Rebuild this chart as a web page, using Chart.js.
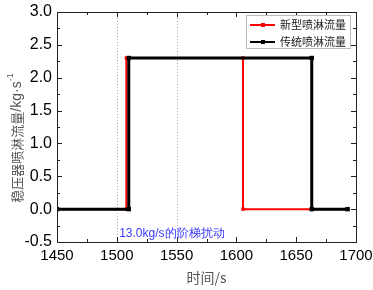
<!DOCTYPE html>
<html>
<head>
<meta charset="utf-8">
<script src="https://cdn.jsdelivr.net/npm/chart.js@4.4.0/dist/chart.umd.min.js"></script>
<style>
  html, body { margin: 0; padding: 0; background: #fff; }
  #wrap { width: 373px; height: 290px; }
</style>
</head>
<body>
<div id="wrap"><canvas id="grafico" width="373" height="290"></canvas></div>
<script>
// datos
const tiempoNuevo = [1450, 1508, 1508, 1605.5, 1605.5, 1693];
const flujoNuevo  = [0, 0, 2.3, 2.3, 0, 0];
const tiempoTradicional = [1450, 1510, 1510, 1663, 1663, 1693];
const flujoTradicional  = [0, 0, 2.3, 2.3, 0, 0];
const etiquetas = ['新型喷淋流量', '传统喷淋流量'];
const lineasPunteadas = [1500, 1550];
const nota = '13.0kg/s的阶梯扰动';
const notaPos = { x: 1502, y: -0.38 };

const fuente = '"Liberation Sans", Arial, sans-serif';
const fuenteCJK = '"Noto Sans CJK SC", sans-serif';

function puntos(xs, ys) {
  return xs.map((x, i) => ({ x, y: ys[i] }));
}

const decorado = {
  id: 'decorado',
  beforeDatasetsDraw(chart) {
    const { ctx, chartArea: a, scales: { x } } = chart;
    ctx.save();
    ctx.strokeStyle = '#aaa';
    ctx.lineWidth = 1;
    ctx.setLineDash([1, 2]);
    lineasPunteadas.forEach(v => {
      const px = Math.round(x.getPixelForValue(v)) + 0.5;
      ctx.beginPath();
      ctx.moveTo(px, a.top);
      ctx.lineTo(px, a.bottom);
      ctx.stroke();
    });
    ctx.restore();
  },
  afterDraw(chart) {
    const { ctx, chartArea: a, scales: { x, y } } = chart;
    ctx.save();
    // marco
    ctx.strokeStyle = '#222';
    ctx.lineWidth = 1;
    ctx.strokeRect(a.left + 0.5, a.top + 0.5, a.right - a.left, a.bottom - a.top);
    // ticks hacia dentro
    ctx.beginPath();
    for (let v = 1450; v <= 1700; v += 25) {
      const px = Math.round(x.getPixelForValue(v)) + 0.5;
      const l = v % 50 === 0 ? 5 : 3;
      ctx.moveTo(px, a.bottom); ctx.lineTo(px, a.bottom - l);
      ctx.moveTo(px, a.top); ctx.lineTo(px, a.top + l);
    }
    for (let v = -0.5; v <= 3.0001; v += 0.25) {
      const py = Math.round(y.getPixelForValue(v)) + 0.5;
      const l = Math.abs(v * 2 - Math.round(v * 2)) < 1e-6 ? 5 : 3;
      ctx.moveTo(a.left, py); ctx.lineTo(a.left + l, py);
      ctx.moveTo(a.right, py); ctx.lineTo(a.right - l, py);
    }
    ctx.stroke();

    // nota
    ctx.fillStyle = '#3a3aff';
    ctx.font = '12px ' + fuente;
    ctx.textBaseline = 'middle';
    ctx.fillText(nota, x.getPixelForValue(notaPos.x), y.getPixelForValue(notaPos.y));

    // titulo eje y con superindice
    ctx.fillStyle = '#555';
    ctx.translate(17, 138);
    ctx.rotate(-Math.PI / 2);
    const t1 = '稳压器喷淋流量';
    const t2 = '/kg·s';
    ctx.font = '13px ' + fuenteCJK;
    const w1 = ctx.measureText(t1).width;
    ctx.font = '14px ' + fuente;
    const w2 = ctx.measureText(t2).width;
    ctx.font = '9px ' + fuente;
    const w3 = ctx.measureText('-1').width;
    const x0 = -(w1 + w2 + w3) / 2;
    ctx.textBaseline = 'middle';
    ctx.font = '13px ' + fuenteCJK;
    ctx.fillText(t1, x0, 0);
    ctx.font = '14px ' + fuente;
    ctx.fillText(t2, x0 + w1, 0);
    ctx.font = '9px ' + fuente;
    ctx.fillText('-1', x0 + w1 + w2, -6);
    ctx.setTransform(1, 0, 0, 1, 0, 0);

    // leyenda
    const lx = 246, ly = 15, lw = 104, lh = 33;
    ctx.fillStyle = '#fff';
    ctx.fillRect(lx, ly, lw, lh);
    ctx.strokeStyle = '#bbb';
    ctx.lineWidth = 1;
    ctx.strokeRect(lx + 0.5, ly + 0.5, lw, lh);
    chart.data.datasets.forEach((ds, i) => {
      const yy = ly + 10 + i * 17;
      ctx.strokeStyle = ds.borderColor;
      ctx.lineWidth = 2;
      ctx.beginPath();
      ctx.moveTo(lx + 4, yy);
      ctx.lineTo(lx + 29, yy);
      ctx.stroke();
      ctx.fillStyle = ds.borderColor;
      ctx.fillRect(lx + 15, yy - 2, 4, 4);
      ctx.fillStyle = '#222';
      ctx.font = '11px ' + fuenteCJK;
      ctx.textBaseline = 'middle';
      ctx.fillText(ds.label, lx + 34, yy);
    });
    ctx.restore();
  }
};

new Chart(document.getElementById('grafico'), {
  type: 'line',
  data: {
    datasets: [
      {
        label: etiquetas[0],
        data: puntos(tiempoNuevo, flujoNuevo),
        borderColor: '#ff0000',
        backgroundColor: '#ff0000',
        borderWidth: 2,
        pointRadius: 1,
        pointStyle: 'rect',
        tension: 0,
        order: 2
      },
      {
        label: etiquetas[1],
        data: puntos(tiempoTradicional, flujoTradicional),
        borderColor: '#000000',
        backgroundColor: '#000000',
        borderWidth: 3,
        pointRadius: 1,
        pointStyle: 'rect',
        tension: 0,
        order: 1
      }
    ]
  },
  options: {
    responsive: false,
    animation: false,
    layout: { padding: { top: 12, right: 17, left: 0, bottom: 0 } },
    plugins: {
      legend: { display: false },
      tooltip: { enabled: false }
    },
    scales: {
      x: {
        type: 'linear',
        min: 1450,
        max: 1700,
        grid: { display: false, drawTicks: false },
        border: { display: false },
        ticks: {
          stepSize: 50,
          color: '#000',
          font: { family: fuente, size: 15 },
          padding: 5,
          callback: v => String(v)
        },
        title: {
          display: true,
          text: '时间/s',
          color: '#555',
          font: { family: fuenteCJK, size: 14 },
          padding: { top: 2 }
        },
        afterFit(s) { s.height = 48; s.paddingRight = 0; s.paddingLeft = 0; }
      },
      y: {
        min: -0.5,
        max: 3.0,
        grid: { display: false, drawTicks: false },
        border: { display: false },
        ticks: {
          stepSize: 0.5,
          color: '#000',
          font: { family: fuente, size: 16 },
          padding: 5,
          callback: v => v.toFixed(1)
        },
        afterFit(s) { s.width = 57; s.paddingTop = 0; s.paddingBottom = 0; }
      }
    }
  },
  plugins: [decorado]
});
</script>
</body>
</html>
